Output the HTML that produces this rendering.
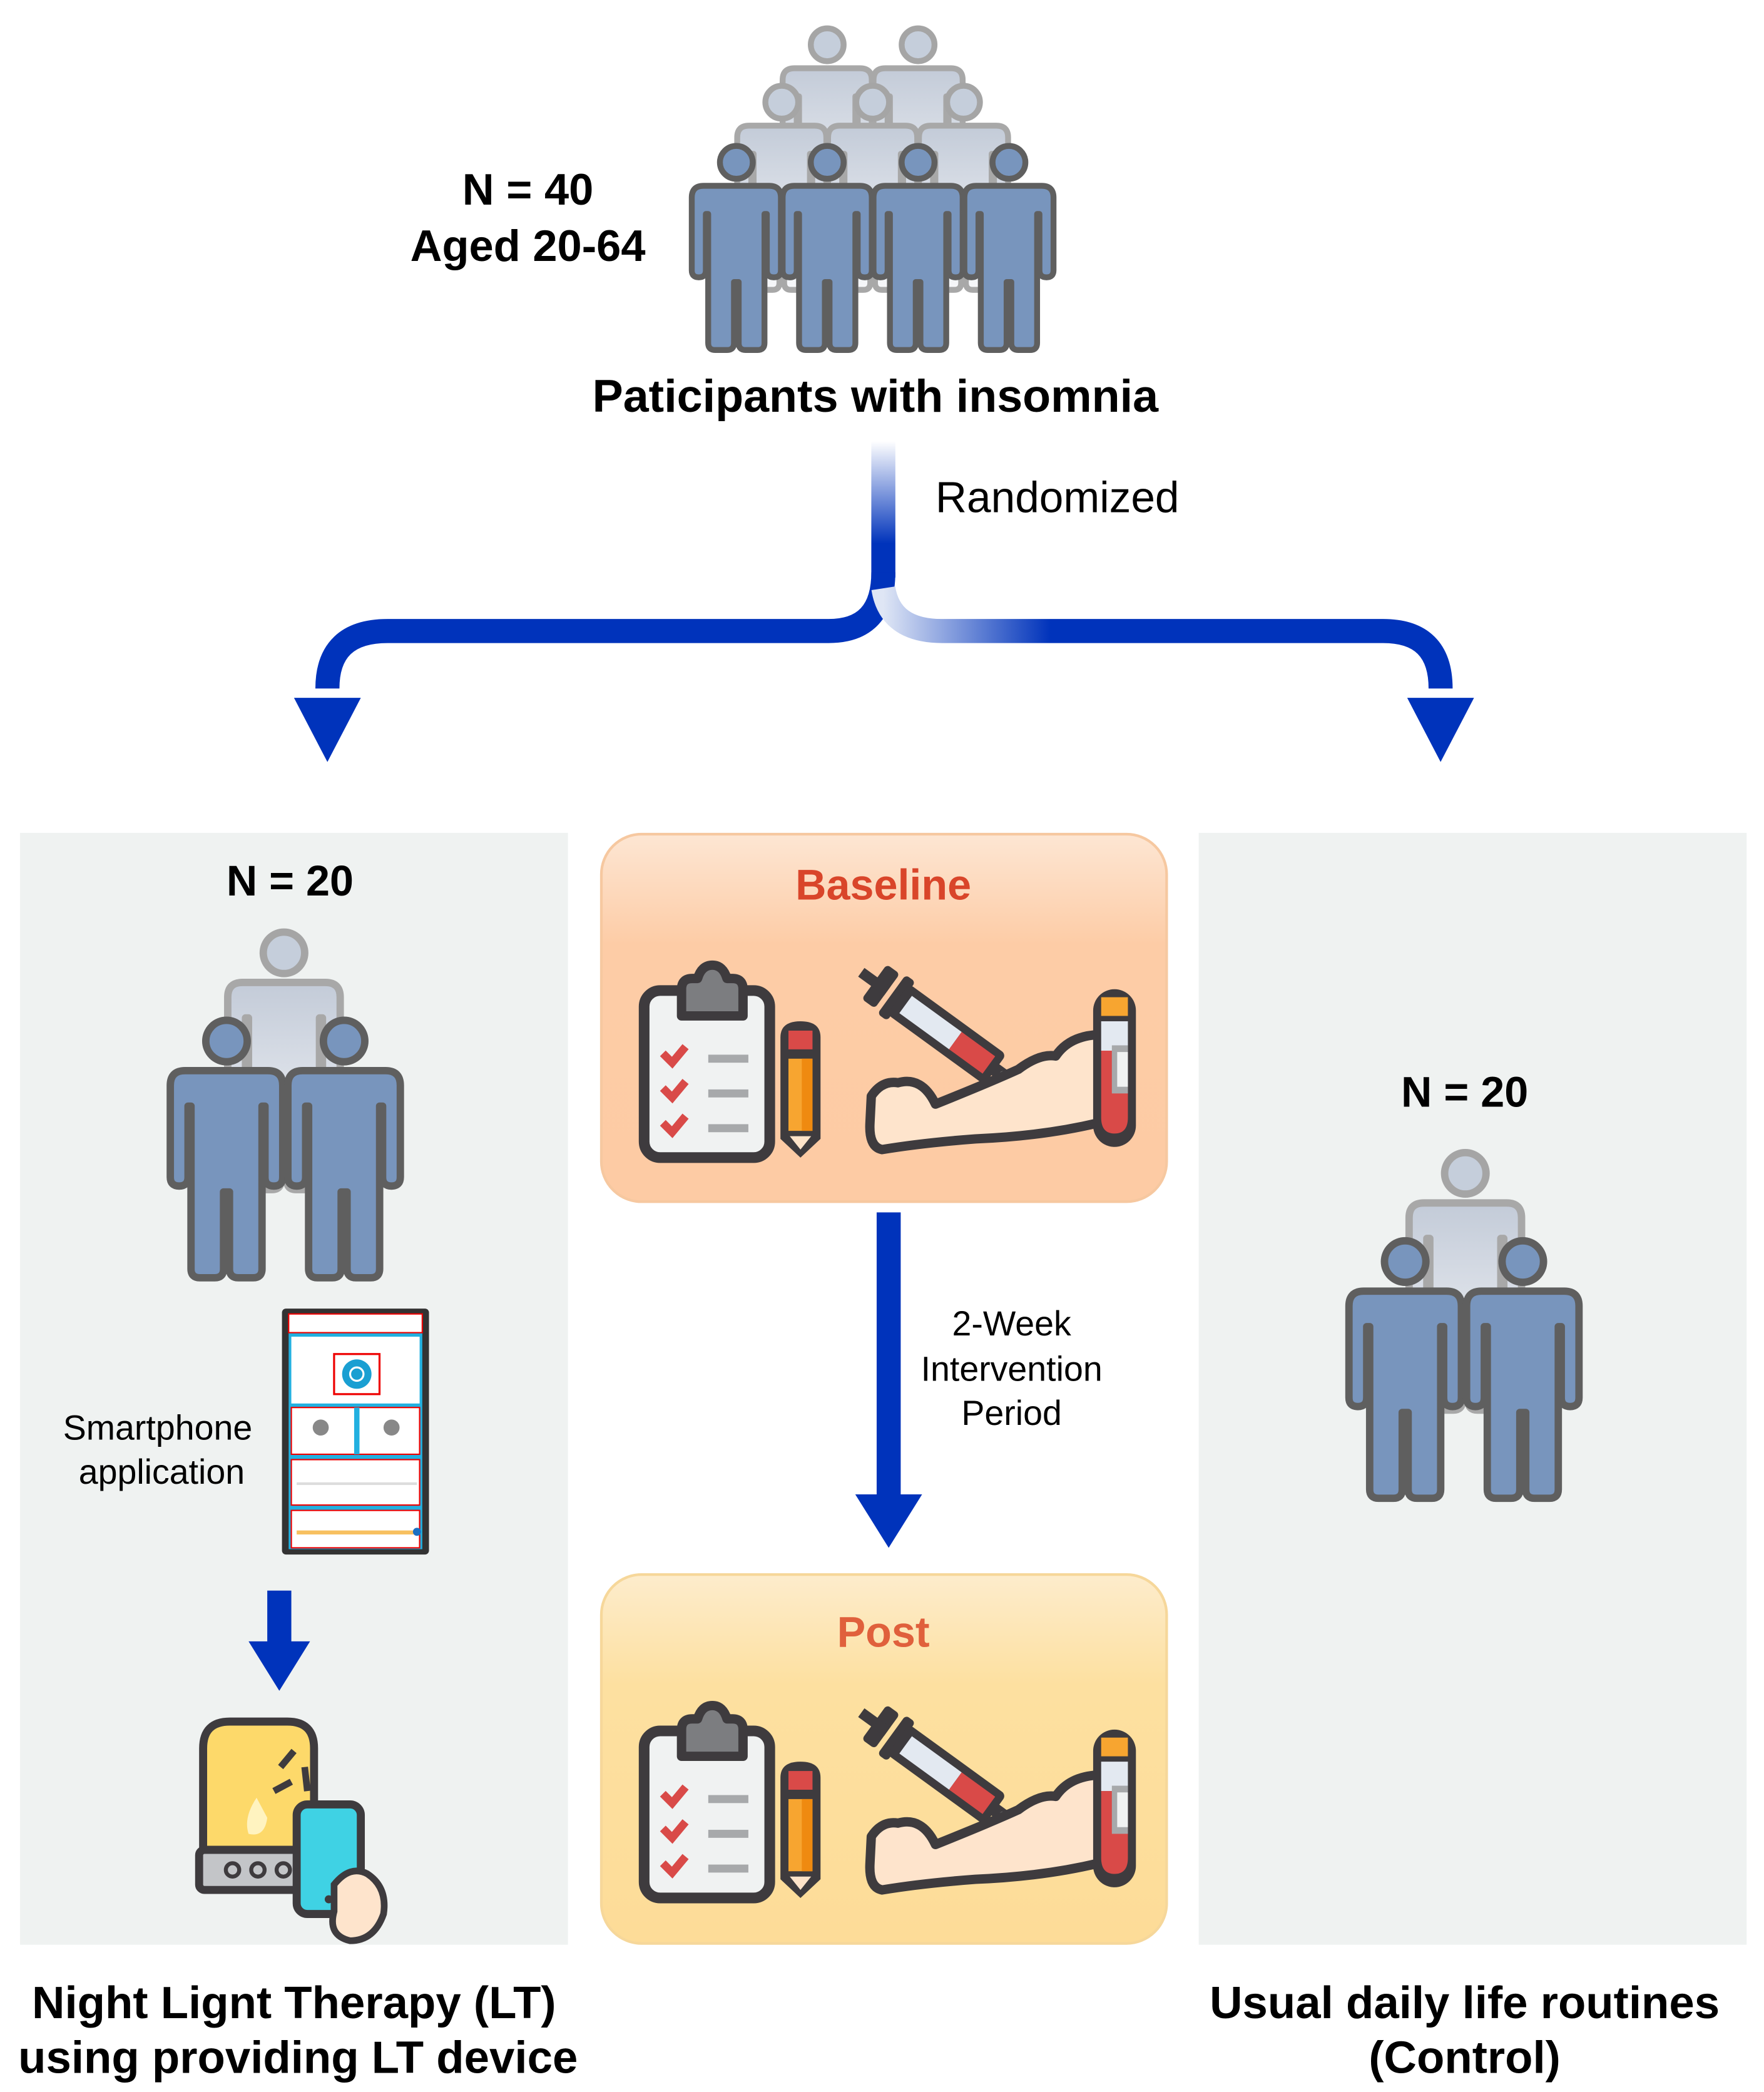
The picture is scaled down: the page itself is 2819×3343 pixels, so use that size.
<!DOCTYPE html>
<html><head><meta charset="utf-8"><style>html,body{margin:0;padding:0;background:#fff}svg{display:block}</style></head>
<body>
<svg width="2819" height="3343" viewBox="0 0 1320 1565" xmlns="http://www.w3.org/2000/svg" font-family="Liberation Sans, Arial, sans-serif">
<defs>
<linearGradient id="gp" x1="0" y1="0" x2="0" y2="1"><stop offset="0" stop-color="#c3cbd8"/><stop offset="1" stop-color="#f7f8fa"/></linearGradient>
<symbol id="pb" viewBox="-4 -4 84 188" overflow="visible">
<circle cx="38" cy="18" r="14" fill="#7895bd" stroke="#5f5f5f" stroke-width="5"/>
<path d="M10,38 H66 Q76,38 76,48 V110 Q76,116 70,116 Q64,116 64,110 V62 H62 V172 Q62,178 56,178 H46 Q40,178 40,172 V120 H36 V172 Q36,178 30,178 H20 Q14,178 14,172 V62 H12 V110 Q12,116 6,116 Q0,116 0,110 V48 Q0,38 10,38 Z" fill="#7895bd" stroke="#5f5f5f" stroke-width="5" stroke-linejoin="round"/>
</symbol>
<symbol id="pg" viewBox="-4 -4 84 188" overflow="visible">
<circle cx="38" cy="18" r="14" fill="#c5cedb" stroke="#a5a5a5" stroke-width="5"/>
<path d="M10,38 H66 Q76,38 76,48 V110 Q76,116 70,116 Q64,116 64,110 V62 H62 V172 Q62,178 56,178 H46 Q40,178 40,172 V120 H36 V172 Q36,178 30,178 H20 Q14,178 14,172 V62 H12 V110 Q12,116 6,116 Q0,116 0,110 V48 Q0,38 10,38 Z" fill="url(#gp)" stroke="#a8a8a8" stroke-width="5" stroke-linejoin="round"/>
</symbol>
<linearGradient id="av" x1="0" y1="0" x2="0" y2="1"><stop offset="0" stop-color="#ffffff"/><stop offset="0.75" stop-color="#0033bb"/></linearGradient>
<linearGradient id="ar" x1="0" y1="0" x2="1" y2="0"><stop offset="0" stop-color="#dfe6f5"/><stop offset="0.3" stop-color="#0033bb"/></linearGradient>
<linearGradient id="gb" x1="0" y1="0" x2="0" y2="1"><stop offset="0" stop-color="#fde6d3"/><stop offset="0.3" stop-color="#fdcca6"/><stop offset="1" stop-color="#fdcba4"/></linearGradient>
<linearGradient id="gpo" x1="0" y1="0" x2="0" y2="1"><stop offset="0" stop-color="#fdeccc"/><stop offset="0.3" stop-color="#fde0a0"/><stop offset="1" stop-color="#fddc98"/></linearGradient>
<g id="icons">
<rect x="482" y="741" width="94" height="125" rx="12" fill="#f0f2f2" stroke="#3e3b3e" stroke-width="8"/>
<path d="M510,760 V740 Q510,732 518,732 H522 Q525,722 533,722 Q541,722 544,732 H548 Q556,732 556,740 V760 Z" fill="#7c7d80" stroke="#3e3b3e" stroke-width="7" stroke-linejoin="round"/>
<g stroke="#d94a48" stroke-width="6" fill="none"><path d="M496,788 l7,7 l10,-12"/><path d="M496,814 l7,7 l10,-12"/><path d="M496,840 l7,7 l10,-12"/></g>
<g fill="#a7a9ab"><rect x="530" y="789" width="30" height="6"/><rect x="530" y="815" width="30" height="6"/><rect x="530" y="841" width="30" height="6"/></g>
<path d="M584,776 Q584,764 599,764 Q614,764 614,776 V852 L599,866 L584,852 Z" fill="#3e3b3e"/>
<rect x="590" y="771" width="18" height="14" fill="#d94a48"/>
<rect x="590" y="792" width="18" height="54" fill="#f7a530"/><rect x="600" y="792" width="8" height="54" fill="#ef8a10"/>
<path d="M591,850 H607 L599,860 Z" fill="#fde3c9"/>
<g transform="translate(706,772) rotate(36)">
<rect x="-64" y="-16" width="12" height="32" rx="3" fill="#3e3b3e"/>
<rect x="-76" y="-4" width="24" height="8" fill="#3e3b3e"/>
<rect x="-48" y="-18" width="9" height="36" rx="3" fill="#3e3b3e"/>
<rect x="-42" y="-14" width="90" height="28" rx="4" fill="#3e3b3e"/>
<rect x="-35" y="-8" width="46" height="16" fill="#e3e9f1"/>
<rect x="11" y="-8" width="31" height="16" fill="#d94a48"/>
<rect x="46" y="-5" width="12" height="10" fill="#3e3b3e"/>
<circle cx="55" cy="0" r="3" fill="#8a8a8a"/>
<rect x="56" y="-2" width="50" height="4" fill="#3e3b3e"/>
</g>
<path d="M652,820 Q660,808 672,810 Q690,805 700,826 Q740,810 762,800 Q778,788 790,790 Q800,775 822,774 L822,840 Q780,850 730,852 Q690,855 660,860 Q650,858 651,840 Z" fill="#fee4cc" stroke="#3e3b3e" stroke-width="7" stroke-linejoin="round"/>
<rect x="818" y="740" width="32" height="118" rx="16" fill="#3e3b3e"/>
<rect x="824" y="746" width="20" height="14" fill="#f7a530"/>
<rect x="824" y="764" width="20" height="22" fill="#e3e9f1"/>
<path d="M824,786 H844 V836 Q844,848 834,848 Q824,848 824,836 Z" fill="#d94a48"/>
<rect x="832" y="782" width="12" height="36" fill="#a7a9ab"/><rect x="836" y="787" width="8" height="26" fill="#f0f2f2"/>
</g>
</defs>

<use href="#pg" x="582" y="14" width="74" height="165"/>
<use href="#pg" x="650" y="14" width="74" height="165"/>
<use href="#pg" x="548" y="57" width="74" height="165"/>
<use href="#pg" x="616" y="57" width="74" height="165"/>
<use href="#pg" x="684" y="57" width="74" height="165"/>
<use href="#pb" x="514" y="102" width="74" height="165"/>
<use href="#pb" x="582" y="102" width="74" height="165"/>
<use href="#pb" x="650" y="102" width="74" height="165"/>
<use href="#pb" x="718" y="102" width="74" height="165"/>

<text x="395" y="153" font-size="33" font-weight="bold" text-anchor="middle">N = 40</text>
<text x="395" y="195" font-size="33" font-weight="bold" text-anchor="middle">Aged 20-64</text>
<text x="655" y="308" font-size="34.5" font-weight="bold" text-anchor="middle">Paticipants with insomnia</text>
<text x="700" y="383" font-size="32.5">Randomized</text>

<rect x="652" y="330" width="18" height="102" fill="url(#av)"/>
<path d="M661,428 Q661,472 620,472 H290 Q245,472 245,515" stroke="#0033bb" stroke-width="18" fill="none"/>
<path d="M661,440 Q666,472 705,472 H1035 Q1078,472 1078,515" stroke="url(#ar)" stroke-width="18" fill="none"/>
<polygon points="220,522 270,522 245,570" fill="#0033bb"/>
<polygon points="1053,522 1103,522 1078,570" fill="#0033bb"/>

<rect x="15" y="623" width="410" height="832" fill="#eff2f1"/>
<rect x="897" y="623" width="410" height="832" fill="#eff2f1"/>

<text x="217" y="670" font-size="32" font-weight="bold" text-anchor="middle">N = 20</text>
<use href="#pg" x="166" y="688" width="93" height="209"/>
<use href="#pb" x="123" y="754" width="93" height="209"/>
<use href="#pb" x="211" y="754" width="93" height="209"/>

<text x="1096" y="828" font-size="32" font-weight="bold" text-anchor="middle">N = 20</text>
<use href="#pg" x="1050" y="853" width="93" height="209"/>
<use href="#pb" x="1005" y="919" width="93" height="209"/>
<use href="#pb" x="1093" y="919" width="93" height="209"/>

<text x="118" y="1077" font-size="26" text-anchor="middle">Smartphone</text>
<text x="121" y="1110" font-size="26" text-anchor="middle">application</text>
<rect x="211" y="979" width="110" height="184" rx="3" fill="#333"/>
<rect x="216" y="983" width="100" height="176" fill="#22b0e0"/>
<rect x="216" y="983" width="100" height="14" fill="#fff" stroke="#e00" stroke-width="1"/>
<rect x="218" y="1000" width="96" height="50" fill="#fff"/>
<rect x="250" y="1013" width="34" height="30" fill="#fff" stroke="#e00" stroke-width="1.5"/>
<circle cx="267" cy="1028" r="11" fill="#1a9fd2"/>
<circle cx="267" cy="1028" r="5" fill="none" stroke="#fff" stroke-width="1.5"/>
<rect x="218" y="1053" width="96" height="35" fill="#fff" stroke="#e00" stroke-width="1"/>
<rect x="265" y="1053" width="4" height="35" fill="#22b0e0"/>
<circle cx="240" cy="1068" r="6" fill="#888"/><circle cx="293" cy="1068" r="6" fill="#888"/>
<rect x="218" y="1092" width="96" height="34" fill="#fff" stroke="#e00" stroke-width="1"/>
<line x1="222" y1="1110" x2="312" y2="1110" stroke="#ddd" stroke-width="2"/>
<rect x="218" y="1130" width="96" height="28" fill="#fff" stroke="#e00" stroke-width="1"/>
<rect x="222" y="1145" width="90" height="3" fill="#f7c060"/>
<circle cx="312" cy="1146" r="3" fill="#1a6fc2"/>

<polygon points="200,1190 218,1190 218,1228 232,1228 209,1265 186,1228 200,1228" fill="#0033bb"/>

<path d="M152,1384 V1308 Q152,1288 172,1288 H215 Q235,1288 235,1308 V1384 Z" fill="#fdd96a" stroke="#3e3b3e" stroke-width="6"/>
<path d="M192,1345 Q182,1360 186,1372 Q198,1375 200,1360 Z" fill="#fff3c0"/>
<g stroke="#3e3b3e" stroke-width="5"><line x1="205" y1="1340" x2="218" y2="1333"/><line x1="210" y1="1322" x2="220" y2="1310"/><line x1="228" y1="1322" x2="230" y2="1340"/></g>
<rect x="149" y="1384" width="92" height="30" rx="4" fill="#c3c5c8" stroke="#3e3b3e" stroke-width="6"/>
<circle cx="174" cy="1399" r="5" fill="none" stroke="#3e3b3e" stroke-width="3"/>
<circle cx="193" cy="1399" r="5" fill="none" stroke="#3e3b3e" stroke-width="3"/>
<circle cx="212" cy="1399" r="5" fill="none" stroke="#3e3b3e" stroke-width="3"/>
<rect x="222" y="1350" width="48" height="82" rx="8" fill="#3fd2e4" stroke="#3e3b3e" stroke-width="6"/>
<path d="M250,1410 Q262,1395 275,1402 Q290,1412 287,1432 Q280,1452 262,1452 Q245,1448 250,1430 Z" fill="#fee4cc" stroke="#3e3b3e" stroke-width="5"/>
<circle cx="246" cy="1421" r="3" fill="#3e3b3e"/>

<rect x="450" y="624" width="423" height="275" rx="30" fill="url(#gb)" stroke="#f6c8a0" stroke-width="2"/>
<text x="661" y="673" font-size="32" font-weight="bold" fill="#d9452a" text-anchor="middle">Baseline</text>
<use href="#icons"/>

<rect x="656" y="907" width="18" height="215" fill="#0033bb"/>
<polygon points="640,1118 690,1118 665,1158" fill="#0033bb"/>
<text x="757" y="999" font-size="26" text-anchor="middle">2-Week</text>
<text x="757" y="1033" font-size="26" text-anchor="middle">Intervention</text>
<text x="757" y="1066" font-size="26" text-anchor="middle">Period</text>

<rect x="450" y="1178" width="423" height="276" rx="30" fill="url(#gpo)" stroke="#f6d79a" stroke-width="2"/>
<text x="661" y="1232" font-size="32" font-weight="bold" fill="#e0603c" text-anchor="middle">Post</text>
<use href="#icons" transform="translate(0,554)"/>

<text x="220" y="1510" font-size="34" font-weight="bold" text-anchor="middle">Night Lignt Therapy (LT)</text>
<text x="223" y="1551" font-size="34" font-weight="bold" text-anchor="middle">using providing LT device</text>
<text x="1096" y="1510" font-size="34" font-weight="bold" text-anchor="middle">Usual daily life routines</text>
<text x="1096" y="1551" font-size="34" font-weight="bold" text-anchor="middle">(Control)</text>
</svg>
</body></html>
